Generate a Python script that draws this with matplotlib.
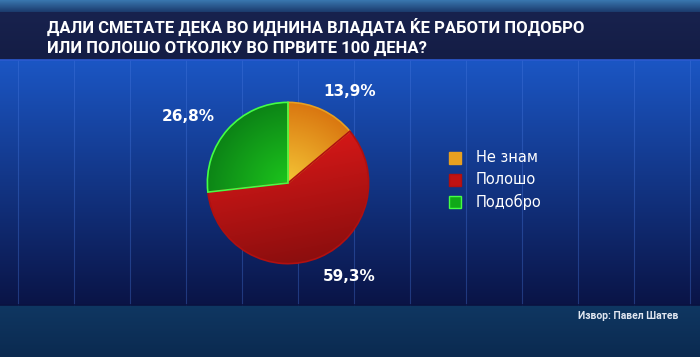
"""
Poll pie chart on a TV-style blue background
"""

import numpy as np
import matplotlib
matplotlib.use('Agg')
import matplotlib.pyplot as plt

# Data
categories = ['Не знам', 'Полошо', 'Подобро']
values = [13.9, 59.3, 26.8]
title = 'ДАЛИ СМЕТАТЕ ДЕКА ВО ИДНИНА ВЛАДАТА ЌЕ РАБОТИ ПОДОБРО\nИЛИ ПОЛОШО ОТКОЛКУ ВО ПРВИТЕ 100 ДЕНА?'
source = 'Извор: Павел Шатев'

# Slice colours: (light, dark) for gradients, plus edge colour
fill_light = ['#f4c535', '#e81a1a', '#1cc41c']
fill_dark = ['#d8720e', '#8c0e0e', '#0b7f16']
edges = ['#e8a020', '#b01010', '#44ff44']
legend_fill = ['#e8a020', '#c01212', '#10a818']

W, H = 700, 357
fig = plt.figure(figsize=(W / 100, H / 100), dpi=100)
renderer = fig.canvas.get_renderer()

def fit_width(txt, target_px):
    # shrink/grow font so the text spans the same width as in the reference
    w = txt.get_window_extent(renderer=renderer).width
    txt.set_fontsize(txt.get_fontsize() * target_px / w)

# ---- background ----
bg = fig.add_axes([0, 0, 1, 1])
bg.set_xlim(0, W)
bg.set_ylim(H, 0)
bg.axis('off')

def vgrad(c1, c2, n=200):
    a = np.array(matplotlib.colors.to_rgb(c1))
    b = np.array(matplotlib.colors.to_rgb(c2))
    t = np.linspace(0, 1, n)[:, None]
    return (a * (1 - t) + b * t)[:, None, :]

bg.imshow(vgrad('#3a78b0', '#1b3a6c'), extent=(0, W, 12, 0), aspect='auto')
bg.imshow(vgrad('#18224e', '#141d45'), extent=(0, W, 60, 12), aspect='auto')
bg.imshow(vgrad('#1b56c4', '#0a1446'), extent=(0, W, 305, 60), aspect='auto')
bg.imshow(vgrad('#0f3762', '#0b2a50'), extent=(0, W, H, 305), aspect='auto')
for x in np.arange(18, W, 56):
    bg.plot([x, x], [60, 305], color='#4a7ae0', lw=0.8, alpha=0.35)
bg.plot([0, W], [60, 60], color='#2b5ad0', lw=1.2)
bg.plot([0, W], [305, 305], color='#0a1240', lw=1.2)

t_title = fig.text(47 / W, 1 - 37 / H, title, color='white', fontsize=13, fontweight='bold',
                   family='Roboto', va='center', ha='left', linespacing=1.35)
fit_width(t_title, 533)
t_src = fig.text(678 / W, 1 - 316 / H, source, color='#e0e6f0', fontsize=7.5, fontweight='bold',
                 family='Roboto', ha='right', va='center')
fit_width(t_src, 100)

# ---- pie ----
cx, cy, r = 288, 183, 84
size = r * 2.4
ax = fig.add_axes([(cx - size / 2) / W, (H - cy - size / 2) / H, size / W, size / H])
ax.set_xlim(-1.2, 1.2)
ax.set_ylim(-1.2, 1.2)
ax.set_aspect('equal')
ax.axis('off')

wedges, texts, autotexts = ax.pie(
    values, startangle=90, counterclock=False, radius=1,
    colors=fill_dark, autopct=lambda p: f'{p:.1f}%'.replace('.', ','),
    pctdistance=1.38, wedgeprops=dict(linewidth=1.2),
    textprops=dict(color='white', fontsize=11, fontweight='bold'))

# nudge the percentage labels the way the broadcast graphic places them
label_dist = [1.37, 1.39, 1.49]
label_shift = [-9, 10, 8]
for i, (w, t) in enumerate(zip(wedges, autotexts)):
    ang = np.deg2rad((w.theta1 + w.theta2) / 2 + label_shift[i])
    t.set_position((label_dist[i] * np.cos(ang), label_dist[i] * np.sin(ang)))

yy, xx = np.mgrid[-1:1:300j, -1:1:300j]
for i, w in enumerate(wedges):
    w.set_edgecolor(edges[i])
    mid = np.deg2rad((w.theta1 + w.theta2) / 2)
    # gradient: lighter toward the centre / upper side, darker at the rim
    if i == 1:
        t = np.clip((0.9 - yy) / 1.9 + 0.1 * xx, 0, 1)
    else:
        t = np.clip(np.hypot(xx, yy) * 0.8 + 0.15 * (xx * np.cos(mid) + yy * np.sin(mid)), 0, 1)
    a = np.array(matplotlib.colors.to_rgb(fill_light[i]))
    b = np.array(matplotlib.colors.to_rgb(fill_dark[i]))
    img = a * (1 - t[..., None]) + b * t[..., None]
    im = ax.imshow(img, extent=(-1, 1, -1, 1), origin='lower', zorder=1.5)
    im.set_clip_path(w)
    w.set_zorder(2)
    w.set_facecolor('none')

# ---- legend ----
for i, name in enumerate(categories):
    y = 158 + i * 22
    bg.add_patch(plt.Rectangle((449, y - 6), 12, 12, facecolor=legend_fill[i],
                               edgecolor=edges[i], lw=1))
    bg.text(476, y, name, color='white', fontsize=10.5, va='center', ha='left')

fig.savefig('out.png', dpi=100)
